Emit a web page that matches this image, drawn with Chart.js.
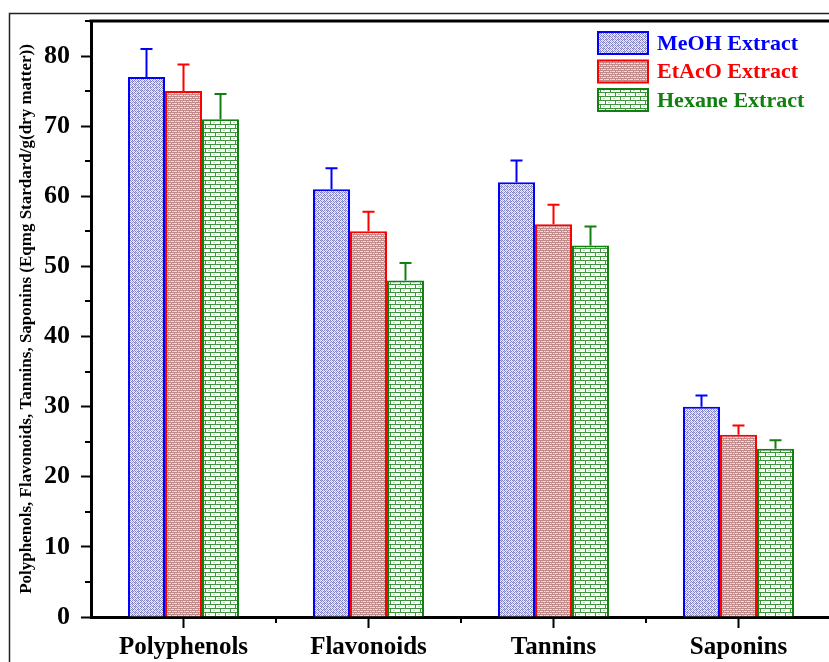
<!DOCTYPE html>
<html>
<head>
<meta charset="utf-8">
<script src="https://cdn.jsdelivr.net/npm/chart.js@4.4.1/dist/chart.umd.min.js"></script>
<style>
    html, body { margin: 0; padding: 0; background: #fff; overflow: hidden; }
    #wrap { position: relative; width: 860px; height: 662px; }
</style>
</head>
<body>
<div id="wrap"><canvas id="extractChart"></canvas></div>
<script>
// data
const categories = ['Polyphenols', 'Flavonoids', 'Tannins', 'Saponins'];
const seriesLabels = ['MeOH Extract', 'EtAcO Extract', 'Hexane Extract'];
const meohValues = [77, 61, 62, 30];
const etacoValues = [75, 55, 56, 26];
const hexaneValues = [71, 48, 53, 24];
const meohErrors = [4, 3, 3.1, 1.6];
const etacoErrors = [3.8, 2.8, 2.8, 1.3];
const hexaneErrors = [3.6, 2.5, 2.7, 1.2];
const yTickValues = [0, 10, 20, 30, 40, 50, 60, 70, 80];
const yMinorTicks = [5, 15, 25, 35, 45, 55, 65, 75, 85];

const seriesColors = ['#0000ff', '#ff0000', '#118011'];
const serifBold = { family: '"Liberation Serif", "Times New Roman", serif', weight: 'bold' };

// small pixel tiles to imitate the hatch fills
function makePattern(w, h, draw) {
    const c = document.createElement('canvas');
    c.width = w; c.height = h;
    const ctx = c.getContext('2d');
    draw(ctx);
    return ctx.createPattern(c, 'repeat');
}

const meohPattern = makePattern(6, 6, ctx => {
    const A = '#7e7ec2', B = '#b8b8de', C = '#f2f2fa';
    const grid = [
        [A, C, A, B, A, C],
        [C, B, C, A, C, A],
        [A, C, A, C, B, C],
        [B, A, C, A, C, A],
        [A, C, B, C, A, C],
        [C, A, C, A, C, B]
    ];
    grid.forEach((row, y) => row.forEach((col, x) => { ctx.fillStyle = col; ctx.fillRect(x, y, 1, 1); }));
});

const etacoPattern = makePattern(6, 4, ctx => {
    ctx.fillStyle = '#f3dcdc';
    ctx.fillRect(0, 0, 6, 4);
    ctx.fillStyle = '#c08a8a';
    ctx.fillRect(0, 0, 6, 1);
    ctx.fillRect(0, 2, 6, 1);
    ctx.fillRect(0, 1, 1, 1);
    ctx.fillRect(3, 3, 1, 1);
    ctx.fillStyle = '#d8b0b0';
    ctx.fillRect(2, 1, 1, 1);
    ctx.fillRect(5, 3, 1, 1);
});

const hexanePattern = makePattern(10, 8, ctx => {
    ctx.fillStyle = '#ffffff';
    ctx.fillRect(0, 0, 10, 8);
    ctx.fillStyle = '#3c963c';
    ctx.fillRect(0, 0, 10, 1);
    ctx.fillRect(0, 4, 10, 1);
    ctx.fillRect(0, 1, 1, 3);
    ctx.fillRect(5, 5, 1, 3);
    ctx.fillStyle = '#c8c8c8';
    ctx.fillRect(3, 2, 2, 1);
    ctx.fillRect(8, 6, 2, 1);
});

const seriesPatterns = [meohPattern, etacoPattern, hexanePattern];
const seriesValues = [meohValues, etacoValues, hexaneValues];
const seriesErrors = [meohErrors, etacoErrors, hexaneErrors];

// frame, extra ticks, error bars and the legend
const decorPlugin = {
    id: 'decor',
    beforeDraw(chart) {
        const ctx = chart.ctx;
        ctx.save();
        ctx.fillStyle = '#fff';
        ctx.fillRect(0, 0, chart.width, chart.height);
        ctx.strokeStyle = '#222';
        ctx.lineWidth = 1.5;
        ctx.strokeRect(9.5, 13.5, chart.width + 20, chart.height + 20);
        ctx.restore();
    },
    afterDatasetsDraw(chart) {
        const ctx = chart.ctx;
        const y = chart.scales.y;
        ctx.save();
        chart.data.datasets.forEach((ds, i) => {
            const meta = chart.getDatasetMeta(i);
            ctx.strokeStyle = ds.borderColor;
            ctx.lineWidth = 2;
            meta.data.forEach((bar, j) => {
                const top = y.getPixelForValue(ds.data[j] + ds.errors[j]);
                ctx.beginPath();
                ctx.moveTo(bar.x, bar.y);
                ctx.lineTo(bar.x, top);
                ctx.moveTo(bar.x - 6, top);
                ctx.lineTo(bar.x + 6, top);
                ctx.stroke();
            });
        });
        ctx.restore();
    },
    afterDraw(chart) {
        const ctx = chart.ctx;
        const area = chart.chartArea;
        const y = chart.scales.y;
        ctx.save();
        ctx.strokeStyle = '#000';
        ctx.lineWidth = 3;
        ctx.beginPath();
        ctx.moveTo(area.left - 1.5, area.top);
        ctx.lineTo(chart.width, area.top);
        ctx.stroke();

        // minor ticks
        ctx.lineWidth = 2;
        ctx.beginPath();
        yMinorTicks.forEach(v => {
            const py = Math.round(y.getPixelForValue(v));
            ctx.moveTo(area.left - 6, py);
            ctx.lineTo(area.left, py);
        });
        const step = (area.right - area.left) / categories.length;
        for (let k = 1; k < categories.length; k++) {
            const px = Math.round(area.left + k * step);
            ctx.moveTo(px, area.bottom);
            ctx.lineTo(px, area.bottom + 6);
        }
        ctx.stroke();

        // legend
        const boxX = 598, boxW = 50, boxH = 22;
        const rowsY = [43, 71.5, 100];
        ctx.font = 'bold 22px "Liberation Serif", "Times New Roman", serif';
        ctx.textBaseline = 'middle';
        chart.data.datasets.forEach((ds, i) => {
            const cy = rowsY[i];
            ctx.fillStyle = ds.backgroundColor;
            ctx.fillRect(boxX, cy - boxH / 2, boxW, boxH);
            ctx.strokeStyle = ds.borderColor;
            ctx.lineWidth = 2;
            ctx.strokeRect(boxX, cy - boxH / 2, boxW, boxH);
            ctx.fillStyle = ds.borderColor;
            ctx.fillText(ds.label, 657, cy + 1);
        });
        ctx.restore();
    }
};

const chart = new Chart(document.getElementById('extractChart'), {
    type: 'bar',
    data: {
        labels: categories,
        datasets: seriesLabels.map((label, i) => ({
            label: label,
            data: seriesValues[i],
            errors: seriesErrors[i],
            backgroundColor: seriesPatterns[i],
            borderColor: seriesColors[i],
            borderWidth: 2,
            borderSkipped: 'bottom',
            categoryPercentage: 0.6,
            barPercentage: 1.0
        }))
    },
    options: {
        responsive: true,
        maintainAspectRatio: false,
        animation: false,
        layout: { padding: { top: 21, right: 29, left: 0, bottom: 0 } },
        plugins: {
            legend: { display: false },
            tooltip: { enabled: false }
        },
        scales: {
            x: {
                afterFit: s => {
                    s.height = 45;
                    s.paddingLeft = 0;
                    s.paddingRight = 0;
                },
                grid: {
                    offset: false,
                    drawOnChartArea: false,
                    tickLength: 11,
                    tickWidth: 2,
                    tickColor: '#000'
                },
                border: { display: true, color: '#000', width: 3 },
                ticks: {
                    color: '#000',
                    padding: 5,
                    font: { ...serifBold, size: 25 },
                    maxRotation: 0
                }
            },
            y: {
                min: 0,
                max: 85,
                afterFit: s => {
                    s.width = 91;
                    s.paddingTop = 0;
                    s.paddingBottom = 0;
                },
                afterBuildTicks: s => { s.ticks = yTickValues.map(v => ({ value: v })); },
                grid: {
                    drawOnChartArea: false,
                    tickLength: 10,
                    tickWidth: 2,
                    tickColor: '#000'
                },
                border: { display: true, color: '#000', width: 3 },
                ticks: {
                    color: '#000',
                    padding: 11,
                    font: { ...serifBold, size: 26 }
                },
                title: {
                    display: true,
                    text: 'Polyphenols, Flavonoids, Tannins, Saponins (Eqmg Stardard/g(dry matter))',
                    color: '#000',
                    font: { ...serifBold, size: 17 },
                    padding: { top: 16, bottom: 0 }
                }
            }
        }
    },
    plugins: [decorPlugin]
});
</script>
</body>
</html>
